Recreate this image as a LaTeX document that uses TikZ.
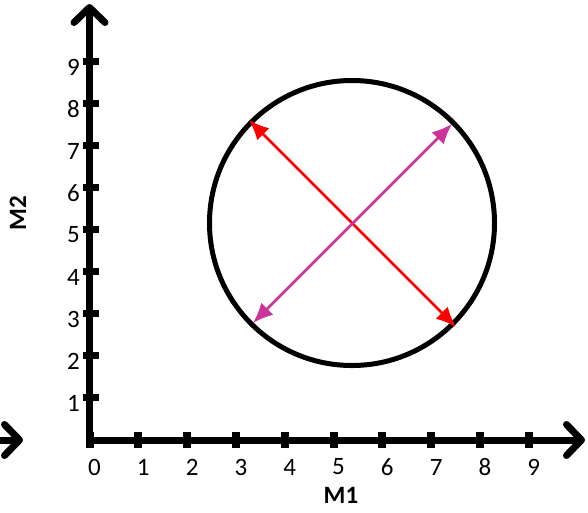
\documentclass[tikz,border=0pt]{standalone}
\usepackage{fontspec}
\setmainfont{Carlito}
\usetikzlibrary{arrows.meta}
\definecolor{ArrowRed}{RGB}{255,0,0}
\definecolor{ArrowPink}{RGB}{204,51,153}
\tikzset{
  axis/.style={draw=black,line width=7pt,line cap=rect,
    -{Straight Barb[length=15pt,width=31pt,round]}},
  xtk/.style={draw=black,line width=8pt},
  ytk/.style={draw=black,line width=7pt},
  num/.style={font=\fontsize{25}{27}\selectfont,inner sep=0pt},
  axlabel/.style={font=\fontsize{25}{27}\selectfont\bfseries,inner sep=0pt},
  ring/.style={circle,draw=black,line width=5pt,minimum size=285pt,inner sep=0pt},
  dbl/.style={line width=2.5pt,{Latex[length=20pt,width=17pt]}-{Latex[length=20pt,width=17pt]}},
}

\begin{document}
\begin{tikzpicture}[x=1pt,y=-1pt]
\useasboundingbox (0,0) rectangle (588,512);
\clip (0,0) rectangle (588,512);
\coordinate (o) at (89.5,440);
\coordinate (xstart) at (90,440);
\coordinate (ystart) at (89.5,440);
\coordinate (xend) at (585,440);
\coordinate (yend) at (89.5,4);
\coordinate (stub) at (-40,440);
\coordinate (stubend) at (23,440);
% axes
\draw[axis] (stub) -- (stubend);
\draw[axis] (ystart) -- (yend);
\draw[axis] (xstart) -- (xend);
\foreach \i in {0,...,9} {
  \draw[xtk] (89.5+48.8*\i,432) -- (89.5+48.8*\i,448);
  \node[num] (xl\i) at (94.5+48.8*\i,467) {\i};
}
\foreach \i in {1,...,9} {
  \draw[ytk] (83,439.5-42*\i) -- (99,439.5-42*\i);
  \node[num,anchor=east] (yl\i) at (80,445-42*\i) {\i};
}
\node[axlabel] (m1) at (341,495) {M1};
\node[axlabel,rotate=90] (m2) at (18,213) {M2};
% circle and the two arrows
\node[ring] (ring) at (352,223) {};
\coordinate (r1) at (249,120);
\coordinate (r2) at (456,327);
\coordinate (p1) at (452,124);
\coordinate (p2) at (253,323);
\draw[dbl,ArrowRed] (r1) -- (r2);
\draw[dbl,ArrowPink] (p2) -- (p1);
\end{tikzpicture}
\end{document}
